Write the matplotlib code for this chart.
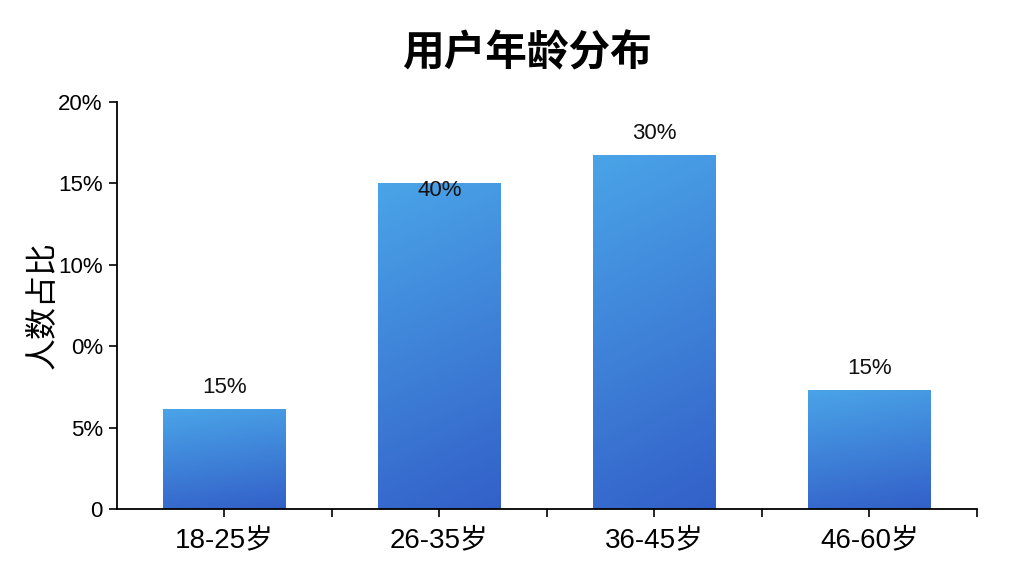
import matplotlib.pyplot as plt
import numpy as np
from matplotlib.colors import LinearSegmentedColormap

plt.rcParams['font.family'] = ['Liberation Sans', 'Noto Sans CJK SC', 'DejaVu Sans']

# data (heights read in axis units, labels as printed on the chart)
categories = ['18-25岁', '26-35岁', '36-45岁', '46-60岁']
heights = [4.9, 16.0, 17.4, 5.85]
value_labels = ['15%', '40%', '30%', '15%']
ytick_pos = [0, 4, 8, 12, 16, 20]
ytick_labels = ['0', '5%', '0%', '10%', '15%', '20%']

fig = plt.figure(figsize=(10.24, 5.76), dpi=100)
ax = fig.add_axes([0.114, 0.1163, 0.84, 0.707])

cmap = LinearSegmentedColormap.from_list('blu', ['#3360c8', '#4aa4e8'])
x = np.arange(len(categories))
bars = ax.bar(x, heights, width=0.57, color='none', edgecolor='none')

# gradient fill for each bar
for b in bars:
    x0, y0 = b.get_x(), b.get_y()
    w, h = b.get_width(), b.get_height()
    yy, xx = np.mgrid[0:1:200j, 0:1:50j]
    grad = yy * 0.85 + (1 - xx) * 0.15
    im = ax.imshow(grad, extent=[x0, x0 + w, y0, y0 + h], origin='lower',
                   cmap=cmap, aspect='auto', vmin=0, vmax=1, zorder=2)
    im.set_clip_path(b)

# value labels (the 26-35 one sits on the bar top)
offsets = [0.55, -0.85, 0.55, 0.55]
for xi, hgt, lab, off in zip(x, heights, value_labels, offsets):
    ax.text(xi, hgt + off, lab, ha='center', va='bottom', fontsize=16, color='#111111', zorder=3)

ax.set_xlim(-0.5, 3.5)
ax.set_ylim(0, 20)
ax.set_yticks(ytick_pos)
ax.set_yticklabels(ytick_labels, fontsize=16)
ax.set_xticks(x)
ax.set_xticklabels(categories, fontsize=20)
ax.set_xticks([0.5, 1.5, 2.5, 3.5], minor=True)
ax.tick_params(axis='x', which='both', length=6, width=1.2, pad=7)
ax.tick_params(axis='y', length=6, width=1.2, pad=4)

for s in ['top', 'right']:
    ax.spines[s].set_visible(False)
for s in ['left', 'bottom']:
    ax.spines[s].set_linewidth(1.3)

ax.set_ylabel('人数占比', fontsize=23, labelpad=0)
fig.text(0.515, 0.908, '用户年龄分布', ha='center', va='center', fontsize=30,
         fontweight='bold', family=['Noto Sans CJK SC'])

fig.savefig('out.png', dpi=100, facecolor='white')
